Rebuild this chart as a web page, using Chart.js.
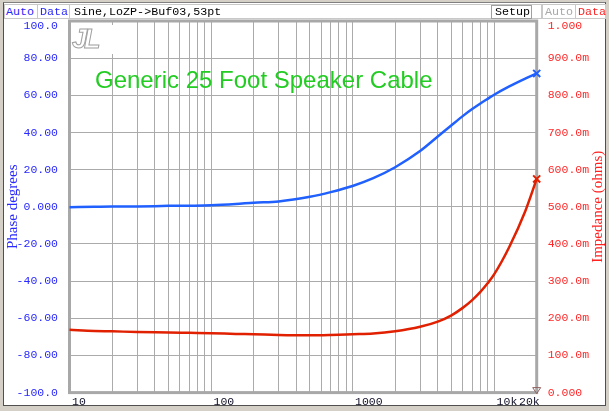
<!DOCTYPE html>
<html>
<head>
<meta charset="utf-8">
<script src="https://cdn.jsdelivr.net/npm/chart.js@4.4.1/dist/chart.umd.min.js"></script>
<style>
  html, body { margin: 0; padding: 0; }
  body { width: 609px; height: 411px; background: #d4d0c8; position: relative; overflow: hidden; }
  #panel { position: absolute; left: 3px; top: 2px; width: 601px; height: 402px; background: #fff;
           border-left: 1px solid #505050; border-top: 1px solid #808080; border-right: 1px solid #505050; border-bottom: 1px solid #505050; }
  #c { position: absolute; left: 0; top: 0; }
  .bar { position: absolute; top: 4px; height: 15px; font: 11.7px 'Liberation Mono', monospace; line-height: 15px;
         box-sizing: border-box; border: 1px solid #c8c8c8; background: #fff; white-space: nowrap; }
  #title { position: absolute; left: 95px; top: 66px; font: 24px 'Liberation Sans', Arial, sans-serif; color: #22cc22; white-space: nowrap; }
  #logo { position: absolute; left: 72px; top: 25px; width: 42px; height: 29px; background: #fff;
          font: italic bold 27px 'Liberation Sans', sans-serif; color: #fff; -webkit-text-stroke: 1px #a0a0a0; line-height: 29px; letter-spacing: -3px; }
</style>
</head>
<body>
<div id="panel"></div>
<canvas id="c" width="609" height="411"></canvas>
<div class="bar" style="left:4px;width:34px;color:#2828ff;padding-left:1px">Auto</div>
<div class="bar" style="left:37px;width:33px;color:#2828ff;padding-left:2px">Data</div>
<div class="bar" style="left:69px;width:473px;color:#000;padding-left:4px">Sine,LoZP-&gt;Buf03,53pt</div>
<div class="bar" style="left:491px;top:5px;height:14px;width:41px;color:#000;padding-left:3px;border-color:#a0a0a0;line-height:13px">Setup</div>
<div class="bar" style="left:542px;width:34px;color:#a8a8a8;padding-left:2px">Auto</div>
<div class="bar" style="left:575px;width:31px;color:#ff2020;padding-left:2px">Data</div>
<div id="logo">JL</div>
<div id="title">Generic 25 Foot Speaker Cable</div>
<script>
// frequency points (Hz)
const freqs     = [10, 15, 20, 30, 50, 70, 100, 150, 200, 300, 500, 700, 1000, 1400, 2000, 3000,
                   4000, 5000, 6000, 7000, 8000, 9000, 10000, 12800, 16600, 20000];
// phase, degrees (left axis)
const phase     = [-0.2, 0, 0.15, 0.2, 0.5, 0.6, 0.8, 1.5, 2.2, 2.9, 5.4, 7.9, 11.2, 15.4, 21.3, 30.0,
                   37.8, 43.9, 48.8, 52.6, 55.6, 58.1, 60.3, 64.8, 69.0, 71.8];
// impedance, ohms (right axis)
const impedance = [0.169, 0.166, 0.165, 0.163, 0.162, 0.161, 0.160, 0.158, 0.157, 0.155, 0.154, 0.155, 0.157, 0.159, 0.165, 0.177,
                   0.191, 0.208, 0.228, 0.249, 0.271, 0.294, 0.318, 0.392, 0.488, 0.575];

const freqGrid   = [10, 20, 30, 40, 50, 60, 70, 80, 90, 100, 200, 300, 400, 500, 600, 700, 800, 900,
                    1000, 2000, 3000, 4000, 5000, 6000, 7000, 8000, 9000, 10000, 20000];
const freqLabels = [[10, '10'], [100, '100'], [1000, '1000'], [10000, '10k'], [20000, '20k']];
const phaseTicks = [-100, -80, -60, -40, -20, 0, 20, 40, 60, 80, 100];
const impTicks   = [0, 0.1, 0.2, 0.3, 0.4, 0.5, 0.6, 0.7, 0.8, 0.9, 1];

const BLUE = '#2060ff', RED = '#e02000';
const GRID = '#ababab';
const MONO = "'Liberation Mono', 'Courier New', monospace";

function fmtPhase(v) { return v.toPrecision(4); }
function fmtImp(v) { return (v === 0 || v >= 1) ? v.toPrecision(4) : (v * 1000).toPrecision(4) + 'm'; }

const lastOnly = (r) => freqs.map((f, i) => i === freqs.length - 1 ? r : 0);

const extras = {
  id: 'extras',
  beforeDatasetsDraw(chart) {
    const { ctx, chartArea: a } = chart;
    ctx.save();
    ctx.strokeStyle = '#a8a8a8';
    ctx.lineWidth = 3;
    ctx.strokeRect(a.left, a.top, a.right - a.left, a.bottom - a.top);
    ctx.restore();
  },
  afterDraw(chart) {
    const { ctx, chartArea: a, scales } = chart;
    ctx.save();
    ctx.font = '11.5px ' + MONO;
    ctx.textBaseline = 'middle';
    // x labels
    ctx.fillStyle = '#101028';
    freqLabels.forEach(([v, t]) => {
      const x = scales.x.getPixelForValue(v);
      if (v === 20000) { ctx.textAlign = 'right'; ctx.fillText(t, x + 3, 402); }
      else { ctx.textAlign = 'left'; ctx.fillText(t, x + 2.5, 402); }
    });
    // top tick labels, pushed below the header
    const yTop = scales.y.getPixelForValue(100) + 5;
    ctx.textAlign = 'right'; ctx.fillStyle = '#2828ff';
    ctx.fillText(fmtPhase(100), a.left - 11.5, yTop);
    ctx.textAlign = 'left'; ctx.fillStyle = '#ff2828';
    ctx.fillText(fmtImp(1), a.right + 11, yTop);
    // right axis title, reading upward
    ctx.translate(598.5, (a.top + a.bottom) / 2);
    ctx.rotate(-Math.PI / 2);
    ctx.textAlign = 'center';
    ctx.font = "15px 'Liberation Serif', serif";
    ctx.fillStyle = '#ff2020';
    ctx.fillText('Impedance (ohms)', 0, 0);
    ctx.restore();
    // cursor marker at bottom right
    ctx.save();
    ctx.strokeStyle = '#906060';
    ctx.lineWidth = 1;
    ctx.beginPath();
    ctx.moveTo(a.right - 4, a.bottom - 5);
    ctx.lineTo(a.right + 4, a.bottom - 5);
    ctx.lineTo(a.right, a.bottom + 1);
    ctx.closePath();
    ctx.stroke();
    ctx.restore();
  }
};

new Chart(document.getElementById('c'), {
  type: 'line',
  data: {
    datasets: [
      {
        label: 'Phase',
        data: freqs.map((f, i) => ({ x: f, y: phase[i] })),
        yAxisID: 'y',
        borderColor: BLUE,
        backgroundColor: BLUE,
        borderWidth: 2.5,
        cubicInterpolationMode: 'monotone',
        pointStyle: 'crossRot',
        pointRadius: lastOnly(5),
        pointBorderWidth: 2,
        clip: false
      },
      {
        label: 'Impedance',
        data: freqs.map((f, i) => ({ x: f, y: impedance[i] })),
        yAxisID: 'y2',
        borderColor: RED,
        backgroundColor: RED,
        borderWidth: 2.5,
        cubicInterpolationMode: 'monotone',
        pointStyle: 'crossRot',
        pointRadius: lastOnly(5),
        pointBorderWidth: 2,
        clip: false
      }
    ]
  },
  options: {
    responsive: false,
    animation: false,
    devicePixelRatio: 1,
    layout: { padding: { top: 21, left: 0, right: 0, bottom: 0 } },
    plugins: { legend: { display: false }, tooltip: { enabled: false } },
    scales: {
      x: {
        type: 'logarithmic',
        min: 10,
        max: 20000,
        afterBuildTicks: (s) => { s.ticks = freqGrid.map(v => ({ value: v })); },
        afterFit: (s) => { s.height = 17.5; },
        ticks: { display: false },
        grid: { color: GRID, lineWidth: 1, drawTicks: false },
        border: { display: false }
      },
      y: {
        position: 'left',
        min: -100,
        max: 100,
        afterBuildTicks: (s) => { s.ticks = phaseTicks.map(v => ({ value: v })); },
        afterFit: (s) => { s.width = 69.5; },
        ticks: {
          color: '#2828ff',
          padding: 11.5,
          font: { family: MONO, size: 11.5 },
          callback: (v) => v === 100 ? '' : fmtPhase(v)
        },
        grid: { color: GRID, lineWidth: 1, drawTicks: false },
        border: { display: false },
        title: {
          display: true,
          text: 'Phase degrees',
          color: '#2828ff',
          font: { family: "'Liberation Serif', serif", size: 15 },
          padding: { top: 4, bottom: 0 }
        }
      },
      y2: {
        position: 'right',
        min: 0,
        max: 1,
        afterBuildTicks: (s) => { s.ticks = impTicks.map(v => ({ value: v })); },
        afterFit: (s) => { s.width = 609 - 536.7; },
        ticks: {
          color: '#ff2828',
          padding: 11,
          font: { family: MONO, size: 11.5 },
          callback: (v) => v === 1 ? '' : fmtImp(v)
        },
        grid: { display: false, drawTicks: false },
        border: { display: false }
      }
    }
  },
  plugins: [extras]
});
</script>
</body>
</html>
